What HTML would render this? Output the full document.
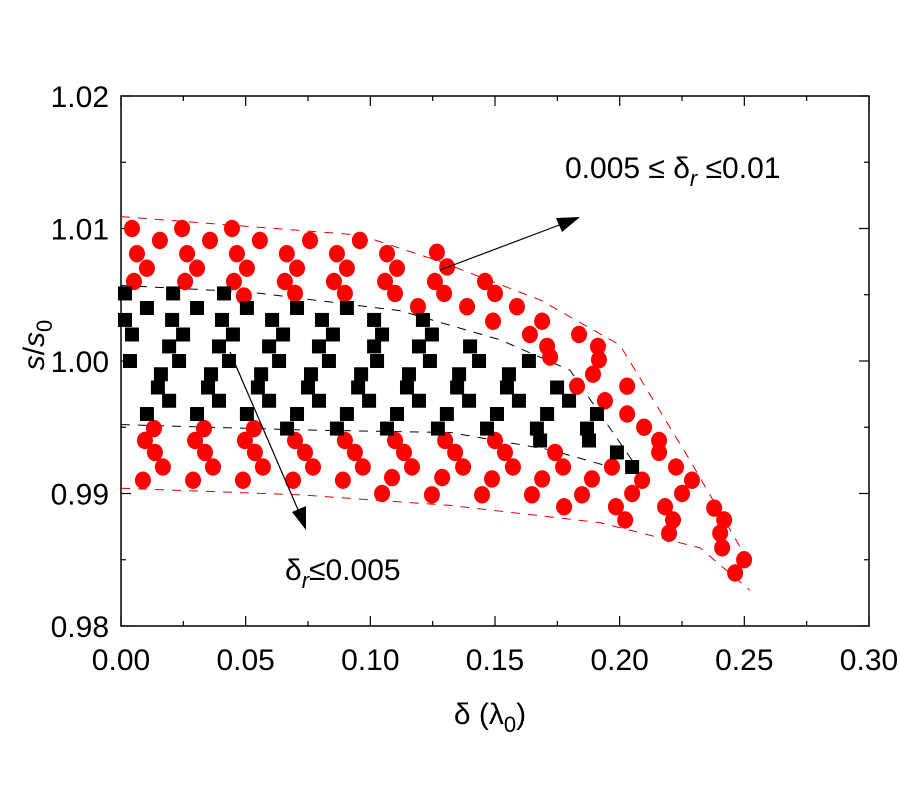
<!DOCTYPE html>
<html><head><meta charset="utf-8"><style>
html,body{margin:0;padding:0;background:#fff;}
svg{display:block;font-family:"Liberation Sans","DejaVu Sans",sans-serif;}
</style></head><body>
<svg id="chart" width="900" height="800" viewBox="0 0 900 800" xmlns="http://www.w3.org/2000/svg">
<rect x="121" y="96" width="748" height="530" fill="none" stroke="#000" stroke-width="1.5"/>
<g id="ticks"></g>
<g id="curves"></g>
<g id="marks"></g>
<g>
<line x1="440" y1="270" x2="562" y2="224" stroke="#000" stroke-width="1.2"/>
<polygon points="580,217 556,218 562,232" fill="#000"/>
<line x1="230" y1="352" x2="299" y2="512" stroke="#000" stroke-width="1.2"/>
<polygon points="306,530 292,512 306,506" fill="#000"/>
</g>
<text x="565" y="178" font-size="30">0.005 ≤ δ<tspan font-style="italic" font-size="22" dy="8">r</tspan><tspan dy="-8"> ≤0.01</tspan></text>
<text x="285" y="580" font-size="30">δ<tspan font-style="italic" font-size="22" dy="8">r</tspan><tspan dy="-8">≤0.005</tspan></text>
<text x="490" y="724" font-size="30" text-anchor="middle">δ (λ<tspan font-size="22" dy="8">0</tspan><tspan dy="-8">)</tspan></text>
<text transform="translate(44,345) rotate(-90)" font-size="30" text-anchor="middle"><tspan font-style="italic">s</tspan>/<tspan font-style="italic">s</tspan><tspan font-size="22" dy="8">0</tspan></text>
</svg>
<script>
const xTicks=[0,0.05,0.10,0.15,0.20,0.25,0.30];
const xTickLabels=["0.00","0.05","0.10","0.15","0.20","0.25","0.30"];
const yTicks=[0.98,0.99,1.00,1.01,1.02];
const yTickLabels=["0.98","0.99","1.00","1.01","1.02"];
const redX=[0.0044,0.0156,0.0064,0.0104,0.0052,0.0245,0.0357,0.0265,0.0305,0.0257,0.0445,0.0557,0.0465,0.0505,0.0453,0.0493,0.0665,0.0706,0.0657,0.0698,0.0758,0.0866,0.0906,0.0854,0.0898,0.0958,
0.1067,0.1107,0.1059,0.1099,0.1191,0.1267,0.1308,0.1259,0.1296,0.1388,0.1460,0.1500,0.1492,0.1588,0.1689,0.1640,0.1709,0.1721,0.1837,0.1913,0.1917,0.1893,0.1829,0.1941,0.2030,0.2030,0.2098,0.2158,0.2158,0.2226,0.2290,0.2250,0.2090,0.2050,0.1969,0.2182,0.2214,0.2198,0.2379,0.2419,0.2403,0.2411,0.2499,0.2463,
0.0132,0.0096,0.0136,0.0168,0.0088,0.0333,0.0297,0.0337,0.0369,0.0289,0.0533,0.0497,0.0537,0.0569,0.0489,0.0698,0.0738,0.0770,0.0690,0.0898,0.0938,0.0970,0.0890,
0.1099,0.1135,0.1167,0.1087,0.1047,0.1300,0.1340,0.1372,0.1288,0.1247,0.1500,0.1540,0.1572,0.1488,0.1448,0.1741,0.1773,0.1689,0.1648,0.1777,0.1889,0.1849,0.1985,0.2022];
const redY=[1.0100,1.0091,1.0081,1.0070,1.0060,1.0100,1.0091,1.0081,1.0070,1.0060,1.0100,1.0091,1.0081,1.0070,1.0060,1.0049,1.0081,1.0070,1.0060,1.0051,1.0091,1.0081,1.0070,1.0060,1.0051,1.0091,
1.0081,1.0070,1.0060,1.0051,1.0041,1.0082,1.0071,1.0060,1.0051,1.0041,1.0060,1.0051,1.0030,1.0041,1.0030,1.0020,1.0011,1.0003,1.0020,1.0011,1.0001,0.9990,0.9981,0.9970,0.9981,0.9960,0.9950,0.9940,0.9931,0.9920,0.9910,0.9900,0.9910,0.9900,0.9920,0.9890,0.9880,0.9870,0.9889,0.9880,0.9870,0.9859,0.9850,0.9840,
0.9949,0.9940,0.9931,0.9920,0.9910,0.9949,0.9940,0.9931,0.9920,0.9910,0.9949,0.9940,0.9931,0.9920,0.9910,0.9940,0.9931,0.9920,0.9910,0.9940,0.9931,0.9920,0.9910,
0.9940,0.9931,0.9920,0.9912,0.9900,0.9940,0.9931,0.9920,0.9912,0.9899,0.9940,0.9931,0.9920,0.9911,0.9899,0.9931,0.9920,0.9911,0.9899,0.9890,0.9911,0.9899,0.9890,0.9880];
const blackX=[0.0016,0.0209,0.0413,
0.0104,0.0305,0.0505,0.0706,0.0906,
0.0016,0.0205,0.0405,0.0606,0.0806,0.1015,0.1211,
0.0044,0.0249,0.0449,0.0650,0.0850,0.1047,0.1247,
0.0193,0.0393,0.0594,0.0794,0.1015,0.1195,0.1400,
0.0036,0.0233,0.0433,0.0634,0.0834,0.1027,0.1239,0.1436,0.1636,
0.0160,0.0361,0.0562,0.0762,0.0963,0.1155,0.1356,0.1556,
0.0148,0.0349,0.0549,0.0750,0.0951,0.1147,0.1348,0.1548,0.1749,
0.0193,0.0393,0.0594,0.0794,0.0995,0.1195,0.1396,0.1596,0.1797,
0.0104,0.0305,0.0505,0.0706,0.0906,0.1107,0.1307,0.1508,0.1709,0.1909,
0.0666,0.0866,0.1067,0.1271,0.1468,0.1668,0.1869,
0.1681,0.1877,0.1989,0.2050];
const blackY=[1.0051,1.0051,1.0051,
1.0040,1.0040,1.0040,1.0040,1.0040,
1.0031,1.0031,1.0031,1.0031,1.0031,1.0031,1.0031,
1.0020,1.0020,1.0020,1.0020,1.0020,1.0020,1.0020,
1.0011,1.0011,1.0011,1.0011,1.0011,1.0011,1.0011,
1.0000,1.0000,1.0000,1.0000,1.0000,1.0000,1.0000,1.0000,1.0000,
0.9990,0.9990,0.9990,0.9990,0.9990,0.9990,0.9990,0.9990,
0.9980,0.9980,0.9980,0.9980,0.9980,0.9980,0.9980,0.9980,0.9980,
0.9970,0.9970,0.9970,0.9970,0.9970,0.9970,0.9970,0.9970,0.9970,
0.9960,0.9960,0.9960,0.9960,0.9960,0.9960,0.9960,0.9960,0.9960,0.9960,
0.9949,0.9949,0.9949,0.9949,0.9949,0.9949,0.9949,
0.9940,0.9940,0.9931,0.9920];
const redUpperX=[0,0.0959,0.1281,0.1682,0.2001,0.2282,0.2522];
const redUpperY=[1.0109,1.0095,1.0075,1.0046,1.0012,0.9925,0.9847];
const redLowerX=[0,0.0718,0.1320,0.1921,0.2322,0.2522];
const redLowerY=[0.9904,0.9899,0.9891,0.9878,0.9859,0.9827];
const blackUpperX=[0,0.0517,0.1118,0.1520,0.1801,0.2050];
const blackUpperY=[1.0057,1.0052,1.0038,1.0016,0.9993,0.9925];
const blackLowerX=[0,0.0718,0.1320,0.1721,0.2001,0.2050];
const blackLowerY=[0.9952,0.9948,0.9946,0.9933,0.9918,0.9921];

const NS="http://www.w3.org/2000/svg";
const X0=121,X1=869,Y0=626,Y1=96;
function sx(v){return X0+(v-0)/(0.30-0)*(X1-X0);}
function sy(v){return Y0-(v-0.98)/(1.02-0.98)*(Y0-Y1);}
function mk(tag,attrs,parent){const e=document.createElementNS(NS,tag);for(const k in attrs)e.setAttribute(k,attrs[k]);parent.appendChild(e);return e;}
const ticks=document.getElementById('ticks');
xTicks.forEach((v,i)=>{
  const x=sx(v);
  let t=mk('line',{x1:x,y1:Y0,x2:x,y2:Y0-10,stroke:'#000','stroke-width':1.2},ticks);
  
  
  mk('line',{x1:x,y1:Y1,x2:x,y2:Y1+10,stroke:'#000','stroke-width':1.2},ticks);
  if(i<xTicks.length-1){const xm=sx(v+0.025);
    mk('line',{x1:xm,y1:Y0,x2:xm,y2:Y0-5,stroke:'#000','stroke-width':1.2},ticks);
    mk('line',{x1:xm,y1:Y1,x2:xm,y2:Y1+5,stroke:'#000','stroke-width':1.2},ticks);}
  const l=mk('text',{x:x,y:Y0+44,'font-size':30,'text-anchor':'middle'},ticks);
  l.textContent=xTickLabels[i];
  
  
});
yTicks.forEach((v,i)=>{
  const y=sy(v);
  let t=mk('line',{x1:X0,y1:y,x2:X0+10,y2:y,stroke:'#000','stroke-width':1.2},ticks);
  
  
  mk('line',{x1:X1,y1:y,x2:X1-10,y2:y,stroke:'#000','stroke-width':1.2},ticks);
  if(i<yTicks.length-1){const ym=sy(v+0.005);
    mk('line',{x1:X0,y1:ym,x2:X0+5,y2:ym,stroke:'#000','stroke-width':1.2},ticks);
    mk('line',{x1:X1,y1:ym,x2:X1-5,y2:ym,stroke:'#000','stroke-width':1.2},ticks);}
  const l=mk('text',{x:X0-12,y:y+11,'font-size':30,'text-anchor':'end'},ticks);
  l.textContent=yTickLabels[i];
  
  
});
const curves=document.getElementById('curves');
function curve(xs,ys,col,dash,name){
  const p=mk('polyline',{points:xs.map((x,i)=>sx(x)+','+sy(ys[i])).join(' '),fill:'none',stroke:col,'stroke-width':1,'stroke-dasharray':dash},curves);
  
  
}
curve(redUpperX,redUpperY,'#e00000','9,8','red-upper-boundary');
curve(redLowerX,redLowerY,'#e00000','9,8','red-lower-boundary');
curve(blackUpperX,blackUpperY,'#000','9,8','black-upper-boundary');
curve(blackLowerX,blackLowerY,'#000','9,8','black-lower-boundary');
const marks=document.getElementById('marks');
redX.forEach((x,i)=>{
  const c=mk('ellipse',{cx:sx(x),cy:sy(redY[i]),rx:8,ry:8.7,fill:'#ff0000'},marks);
  
  
});
blackX.forEach((x,i)=>{
  const r=mk('rect',{x:sx(x)-7,y:sy(blackY[i])-7,width:14,height:14,fill:'#000'},marks);
  
  
});
</script>
</body></html>
